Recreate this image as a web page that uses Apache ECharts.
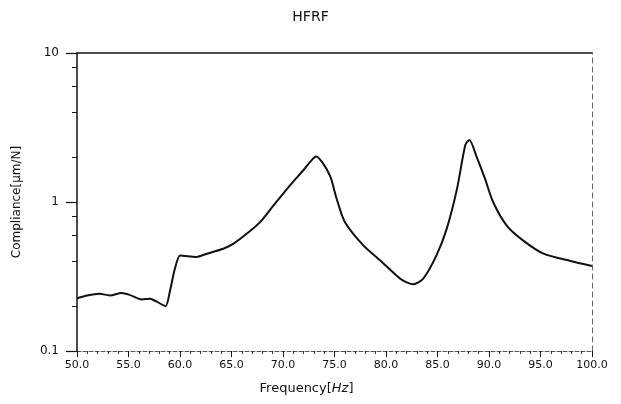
<!DOCTYPE html>
<html>
<head>
<meta charset="utf-8">
<script src="https://cdn.jsdelivr.net/npm/echarts@6/dist/echarts.min.js"></script>
<style>html,body{margin:0;padding:0;background:#fff;}#c{width:621px;height:404px;}</style>
</head>
<body>
<div id="c"></div>
<script>
var titleText = "HFRF";
var xTitle = "Frequency";
var yTitle = "Compliance[μm/N]";
var freq = [50.0, 51.0, 52.2, 53.2, 54.3, 55.1, 56.3, 57.1, 57.7, 58.6, 59.0, 59.5, 60.0, 60.5, 61.6, 62.6, 64.2, 65.2, 66.5, 67.8, 69.1, 70.7, 72.0, 72.7, 73.2, 73.8, 74.6, 75.2, 76.0, 77.8, 79.6, 81.4, 82.65, 83.6, 84.9, 85.9, 86.9, 87.7, 88.1, 88.8, 89.6, 90.4, 91.7, 93.3, 95.3, 97.9, 100.0];
var compliance = [0.226, 0.236, 0.242, 0.236, 0.245, 0.238, 0.222, 0.224, 0.215, 0.200, 0.248, 0.356, 0.438, 0.434, 0.428, 0.450, 0.486, 0.526, 0.614, 0.736, 0.952, 1.30, 1.64, 1.88, 2.02, 1.85, 1.48, 1.056, 0.735, 0.512, 0.396, 0.305, 0.280, 0.305, 0.438, 0.663, 1.23, 2.41, 2.61, 2.01, 1.44, 1.00, 0.698, 0.553, 0.450, 0.402, 0.372];
var minorYTicks = [0.2, 0.4, 0.6, 0.8, 2, 4, 6, 8];

var data = freq.map(function (f, i) { return [f, compliance[i]]; });

var chart = echarts.init(document.getElementById('c'));
var font = 'DejaVu Sans';
chart.setOption({
  animation: false,
  backgroundColor: '#fff',
  title: {
    text: titleText, left: 'center', top: 5,
    textStyle: { fontFamily: font, fontSize: 14, fontWeight: 'normal', color: '#111' }
  },
  grid: { left: 77, right: 29, top: 53, bottom: 53 },
  xAxis: [{
    type: 'value', min: 50, max: 100, interval: 5, position: 'bottom',
    name: '{a|' + xTitle + '[}{b|Hz}{a|]}', nameLocation: 'middle', nameGap: 31,
    nameTextStyle: {
      padding: [0, 56, 0, 0],
      rich: {
        a: { fontFamily: font, fontSize: 13, color: '#111' },
        b: { fontFamily: font, fontSize: 13, fontStyle: 'italic', color: '#111' }
      }
    },
    axisLine: { show: true, lineStyle: { color: '#555', width: 1, type: [4, 2] } },
    axisTick: { show: true, inside: false, length: 6, lineStyle: { color: '#111', width: 1 } },
    minorTick: { show: true, splitNumber: 5, length: 3, lineStyle: { color: '#333', width: 1 } },
    axisLabel: {
      fontFamily: font, fontSize: 11, color: '#111', margin: 9,
      formatter: function (v) { return v.toFixed(1); }
    },
    splitLine: { show: false }
  }, {
    type: 'value', min: 50, max: 100, position: 'top',
    axisLine: { show: true, lineStyle: { color: '#111', width: 1.5 } },
    axisTick: { show: false }, axisLabel: { show: false }, splitLine: { show: false }
  }],
  yAxis: [{
    type: 'log', logBase: 10, min: 0.1, max: 10, position: 'left',
    name: yTitle, nameLocation: 'middle', nameGap: 54,
    nameTextStyle: { fontFamily: font, fontSize: 12, color: '#111' },
    axisLine: { show: true, lineStyle: { color: '#111', width: 1.5 } },
    axisTick: { show: true, length: 11, lineStyle: { color: '#111', width: 1.2 } },
    axisLabel: { fontFamily: font, fontSize: 12, color: '#111', margin: 18 },
    splitLine: { show: false }
  }, {
    type: 'log', logBase: 10, min: 0.1, max: 10, position: 'left',
    axisLine: { show: false },
    axisTick: { show: true, length: 5, customValues: minorYTicks, lineStyle: { color: '#111', width: 1 } },
    axisLabel: { show: false },
    splitLine: { show: false }
  }, {
    type: 'log', logBase: 10, min: 0.1, max: 10, position: 'right',
    axisLine: { show: true, lineStyle: { color: '#666', width: 1, type: [5, 4] } },
    axisTick: { show: false }, axisLabel: { show: false }, splitLine: { show: false }
  }],
  series: [{
    type: 'line', data: data, xAxisIndex: 0, yAxisIndex: 0,
    smooth: 0.25, showSymbol: false,
    lineStyle: { color: '#111', width: 2 }
  }]
});
</script>
</body>
</html>
